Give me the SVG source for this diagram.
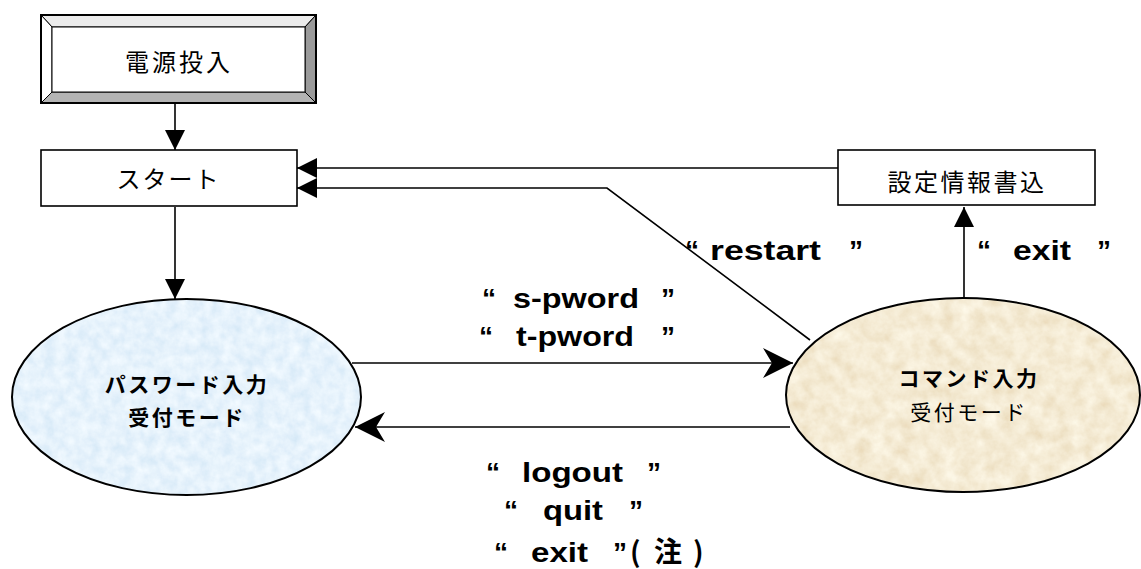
<svg xmlns="http://www.w3.org/2000/svg" width="1141" height="569" viewBox="0 0 1141 569">
<style>
.box{fill:#fff;stroke:#000;stroke-width:1.6}
.jp{font-family:"Noto Sans CJK JP","Noto Sans CJK SC",sans-serif;fill:#000}
.en{font-family:"Liberation Sans",Arial,sans-serif;font-weight:bold;font-size:28px;fill:#000}
.cj{font-family:"Noto Sans CJK JP","Noto Sans CJK SC",sans-serif}
.ln{fill:none;stroke:#000;stroke-width:1.6}
.ell{stroke:#000;stroke-width:2}
</style>
<defs>
<marker id="tri" viewBox="0 0 20 20" refX="20" refY="10" markerWidth="20" markerHeight="20" markerUnits="userSpaceOnUse" orient="auto">
<path d="M0,0 L20,10 L0,20 Z" fill="#000"/>
</marker>
<marker id="barb" viewBox="0 0 30 30" refX="30" refY="15" markerWidth="30" markerHeight="30" markerUnits="userSpaceOnUse" orient="auto">
<path d="M0,0 L30,15 L0,30 L9,15 Z" fill="#000"/>
</marker>
<filter id="texBlue" x="0" y="0" width="1" height="1">
<feTurbulence type="fractalNoise" baseFrequency="0.09" numOctaves="4" seed="3" result="n"/>
<feColorMatrix in="n" type="matrix" values="0.3 0 0 0 0.64  0.2 0 0 0 0.79  0.1 0 0 0 0.92  0 0 0 0 1" result="c"/>
<feComposite in="c" in2="SourceGraphic" operator="in"/>
</filter>
<filter id="texTan" x="0" y="0" width="1" height="1">
<feTurbulence type="fractalNoise" baseFrequency="0.07" numOctaves="4" seed="7" result="n"/>
<feColorMatrix in="n" type="matrix" values="0.2 0 0 0 0.81  0.3 0 0 0 0.68  0.4 0 0 0 0.46  0 0 0 0 1" result="c"/>
<feComposite in="c" in2="SourceGraphic" operator="in"/>
</filter>
</defs>
<rect width="1141" height="569" fill="#fff"/>

<g id="connectors">
<path class="ln" d="M175,103 V150" marker-end="url(#tri)"/>
<path class="ln" d="M175,207 V299" marker-end="url(#tri)"/>
<path class="ln" d="M838,168 H297" marker-end="url(#tri)"/>
<path class="ln" d="M810,340 L607,188 H297" marker-end="url(#tri)"/>
<path class="ln" d="M352,363 H793" marker-end="url(#barb)"/>
<path class="ln" d="M790,427 H355" marker-end="url(#barb)"/>
<path class="ln" d="M964,298 V207" marker-end="url(#tri)"/>
</g>

<g id="power">
<rect x="41" y="15" width="275" height="88" fill="#fff"/>
<polygon points="41,15 316,15 305,27 52,27" fill="#ebebeb" stroke="#000" stroke-width="1"/>
<polygon points="41,15 52,27 52,92 41,103" fill="#fff" stroke="#000" stroke-width="1"/>
<polygon points="316,15 316,103 305,92 305,27" fill="#9a9a9a" stroke="#000" stroke-width="1"/>
<polygon points="41,103 52,92 305,92 316,103" fill="#b4b4b4" stroke="#000" stroke-width="1"/>
<rect x="52" y="27" width="253" height="65" fill="#fff" stroke="#000" stroke-width="1"/>
<rect x="41" y="15" width="275" height="88" fill="none" stroke="#000" stroke-width="2"/>
<text class="jp" x="179" y="70.5" font-size="24" letter-spacing="3" text-anchor="middle">電源投入</text>
</g>

<g id="start">
<rect class="box" x="41" y="150" width="256" height="56"/>
<text class="jp" x="168.5" y="188" font-size="24" letter-spacing="2" text-anchor="middle">スタート</text>
</g>

<g id="settings">
<rect class="box" x="838" y="150" width="257" height="55"/>
<text class="jp" x="967" y="191" font-size="24" letter-spacing="2.5" text-anchor="middle">設定情報書込</text>
</g>

<g id="password-mode">
<ellipse cx="186.5" cy="397" rx="174.5" ry="98" fill="#d8e8f8" filter="url(#texBlue)"/>
<ellipse class="ell" cx="186.5" cy="397" rx="174.5" ry="98" fill="none"/>
<text class="jp" x="187" y="392" font-size="21" font-weight="bold" letter-spacing="2.5" text-anchor="middle">パスワード入力</text>
<text class="jp" x="187" y="425" font-size="21" font-weight="bold" letter-spacing="2.5" text-anchor="middle">受付モード</text>
</g>

<g id="command-mode">
<ellipse cx="963" cy="395" rx="177" ry="97" fill="#ead6ae" filter="url(#texTan)"/>
<ellipse class="ell" cx="963" cy="395" rx="177" ry="97" fill="none"/>
<text class="jp" x="969" y="386" font-size="21" font-weight="bold" letter-spacing="2.5" text-anchor="middle">コマンド入力</text>
<text class="jp" x="969" y="420" font-size="21" letter-spacing="2.5" text-anchor="middle">受付モード</text>
</g>

<g id="labels">
<text class="en" y="308"><tspan x="482">“</tspan><tspan x="513" textLength="126" lengthAdjust="spacingAndGlyphs">s-pword</tspan><tspan x="661">”</tspan></text>
<text class="en" y="346"><tspan x="479">“</tspan><tspan x="516" textLength="118" lengthAdjust="spacingAndGlyphs">t-pword</tspan><tspan x="661">”</tspan></text>
<text class="en" y="260"><tspan x="685">“</tspan><tspan x="710" textLength="111" lengthAdjust="spacingAndGlyphs">restart</tspan><tspan x="849">”</tspan></text>
<text class="en" y="260"><tspan x="977">“</tspan><tspan x="1013" textLength="58" lengthAdjust="spacingAndGlyphs">exit</tspan><tspan x="1097">”</tspan></text>
<text class="en" y="482"><tspan x="486">“</tspan><tspan x="522" textLength="101" lengthAdjust="spacingAndGlyphs">logout</tspan><tspan x="647">”</tspan></text>
<text class="en" y="520"><tspan x="504">“</tspan><tspan x="543" textLength="60" lengthAdjust="spacingAndGlyphs">quit</tspan><tspan x="629">”</tspan></text>
<text class="en" y="562"><tspan x="494">“</tspan><tspan x="531" textLength="57" lengthAdjust="spacingAndGlyphs">exit</tspan><tspan x="613">”</tspan><tspan class="cj" x="630" font-size="28">(</tspan><tspan class="cj" x="654" font-size="28">注</tspan><tspan class="cj" x="693" font-size="28">)</tspan></text>
</g>
</svg>
